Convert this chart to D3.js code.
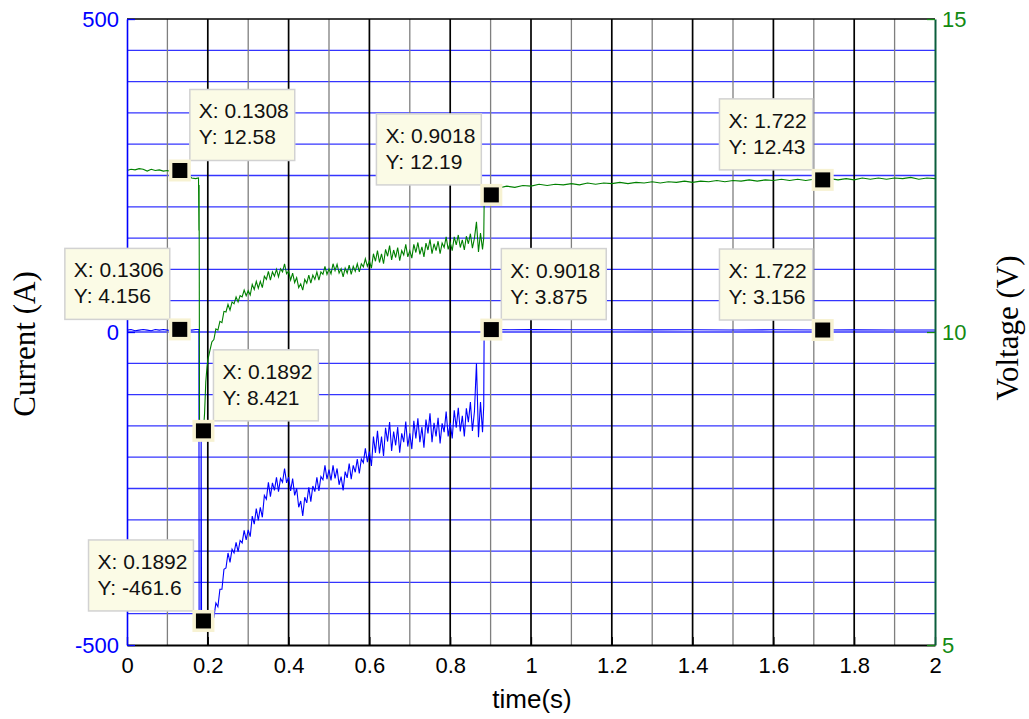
<!DOCTYPE html>
<html><head><meta charset="utf-8">
<script src="https://cdn.jsdelivr.net/npm/d3@7"></script>
<style>body{margin:0;background:#fff}svg{display:block}</style>
</head><body><svg id="c" width="1029" height="719"></svg>
<script>
// ---------- DATA ----------
const timeTicks = [0,0.2,0.4,0.6,0.8,1,1.2,1.4,1.6,1.8,2];
const timeTickLabels = ["0","0.2","0.4","0.6","0.8","1","1.2","1.4","1.6","1.8","2"];
const currentTicks = [-500,0,500];
const currentTickLabels = ["-500","0","500"];
const voltageTicks = [5,10,15];
const voltageTickLabels = ["5","10","15"];

// shared dense sample times (transient part)
const denseT = [
0.2,0.205,0.21,0.215,0.22,0.225,0.23,0.235,0.24,0.245,
0.25,0.255,0.26,0.265,0.27,0.275,0.28,0.285,0.29,0.295,
0.3,0.305,0.31,0.315,0.32,0.325,0.33,0.335,0.34,0.345,
0.35,0.355,0.36,0.365,0.37,0.375,0.38,0.385,0.39,0.395,
0.4,0.405,0.41,0.415,0.42,0.425,0.43,0.435,0.44,0.445,
0.45,0.455,0.46,0.465,0.47,0.475,0.48,0.485,0.49,0.495,
0.5,0.505,0.51,0.515,0.52,0.525,0.53,0.535,0.54,0.545,
0.55,0.555,0.56,0.565,0.57,0.575,0.58,0.585,0.59,0.595,
0.6,0.605,0.61,0.615,0.62,0.625,0.63,0.635,0.64,0.645,
0.65,0.655,0.66,0.665,0.67,0.675,0.68,0.685,0.69,0.695,
0.7,0.705,0.71,0.715,0.72,0.725,0.73,0.735,0.74,0.745,
0.75,0.755,0.76,0.765,0.77,0.775,0.78,0.785,0.79,0.795,
0.8,0.805,0.81,0.815,0.82,0.825,0.83,0.835,0.84,0.845,
0.85,0.855,0.86,0.865,0.87,0.875,0.88];

// current (A)
const currentHeadT = [0,0.01,0.02,0.03,0.04,0.05,0.06,0.07,0.08,0.09,0.1,0.11,0.12,0.1306,0.14,0.15,0.16,0.17,0.178,0.1785,0.183,0.1835,0.1845,0.1892,0.195];
const currentHeadA = [3,4,2,3,4,3,2,4,3,4,3,2,4,4.156,3,4,3,4,4,-455,-458,-150,-460,-461.6,-460];
const currentDenseA = [
-462,-460,-460,-456,-433,-439,-411,-411,-379,-377,
-353,-368,-347,-353,-336,-351,-333,-337,-317,-332,
-316,-327,-294,-307,-282,-301,-280,-296,-261,-267,
-240,-263,-241,-253,-232,-255,-234,-240,-218,-241,
-232,-254,-234,-261,-250,-280,-270,-294,-264,-273,
-248,-271,-246,-255,-232,-254,-231,-236,-213,-235,
-220,-237,-213,-234,-218,-244,-231,-253,-223,-233,
-210,-235,-213,-224,-203,-226,-203,-209,-186,-208,
-191,-214,-167,-193,-158,-194,-167,-198,-153,-175,
-144,-190,-159,-181,-152,-193,-162,-176,-143,-183,
-162,-187,-142,-170,-138,-176,-152,-185,-140,-162,
-130,-176,-145,-167,-137,-178,-146,-160,-127,-167,
-145,-170,-125,-153,-121,-159,-134,-167,-122,-144,
-112,-158,-127,-50,-168,-112,-160];
const currentTailT = [0.883,0.884,0.9018,0.95,1.0,1.1,1.2,1.3,1.4,1.5,1.6,1.722,1.8,1.9,2.0];
const currentTailA = [-118,3,3.875,3.6,3.8,3.5,3.7,3.4,3.6,3.3,3.5,3.156,3.4,3.2,3.3];

// voltage (V)
const voltageHeadT = [0,0.01,0.02,0.03,0.04,0.05,0.06,0.07,0.08,0.09,0.1,0.11,0.12,0.1308,0.14,0.15,0.155,0.16,0.17,0.177,0.178,0.1785,0.1795,0.183,0.1892,0.192,0.195,0.198];
const voltageHeadV = [12.58,12.6,12.59,12.61,12.6,12.57,12.6,12.58,12.59,12.57,12.58,12.56,12.57,12.58,12.57,12.55,12.5,12.46,12.45,12.46,11.62,12.35,8.6,8.5,8.421,8.7,9.2,9.44];
const voltageDenseV = [
9.55,9.7,9.84,9.88,10.05,10.03,10.17,10.15,10.33,10.32,
10.44,10.35,10.48,10.45,10.56,10.48,10.58,10.56,10.67,10.58,
10.66,10.59,10.76,10.68,10.81,10.7,10.81,10.71,10.89,10.84,
10.97,10.83,10.96,10.89,11.0,10.88,11.01,10.96,11.09,10.93,
10.97,10.83,10.94,10.79,10.87,10.71,10.77,10.67,10.84,10.78,
10.91,10.78,10.91,10.84,10.96,10.83,10.96,10.92,11.05,10.92,
11.01,10.93,11.09,10.98,11.08,10.94,11.01,10.88,11.02,10.94,
11.07,10.92,11.05,10.97,11.09,10.96,11.09,11.04,11.17,11.05,
11.13,11.02,11.25,11.13,11.3,11.11,11.25,11.09,11.32,11.21,
11.38,11.15,11.31,11.19,11.35,11.14,11.3,11.23,11.4,11.2,
11.3,11.18,11.4,11.27,11.43,11.24,11.36,11.2,11.42,11.31,
11.48,11.25,11.41,11.3,11.45,11.25,11.42,11.35,11.52,11.32,
11.43,11.3,11.52,11.39,11.55,11.35,11.47,11.31,11.53,11.41,
11.57,11.34,11.5,11.76,11.28,11.58,11.32];
const voltageTailT = [0.883,0.884,0.888,0.9018,0.91,0.92,0.94,0.96,0.98,1.0,1.02,1.04,1.06,1.08,1.1,1.12,1.14,1.16,1.18,1.2,1.22,1.24,1.26,1.28,1.3,1.32,1.34,1.36,1.38,1.4,1.42,1.44,1.46,1.48,1.5,1.52,1.54,1.56,1.58,1.6,1.62,1.64,1.66,1.68,1.7,1.722,1.74,1.76,1.78,1.8,1.82,1.84,1.86,1.88,1.9,1.92,1.94,1.96,1.98,2.0];
const voltageTailV = [11.5,12.03,12.1,12.19,12.28,12.3,12.33,12.31,12.34,12.33,12.36,12.34,12.36,12.35,12.37,12.35,12.38,12.36,12.38,12.37,12.39,12.37,12.39,12.38,12.4,12.38,12.4,12.39,12.41,12.39,12.41,12.4,12.42,12.4,12.42,12.41,12.43,12.41,12.43,12.42,12.44,12.42,12.44,12.42,12.44,12.43,12.45,12.43,12.45,12.43,12.46,12.44,12.46,12.44,12.46,12.45,12.47,12.44,12.46,12.45];

// data tips
const tipX = [0.1308,0.1306,0.1892,0.1892,0.9018,0.9018,1.722,1.722];
const tipY = [12.58,4.156,8.421,-461.6,12.19,3.875,12.43,3.156];
const tipAxis = ["V","I","V","I","V","I","V","I"];
const tipSide = ["ur","ul","ur","ul","ul","ur","ul","ul"];
const tipLine1 = ["X: 0.1308","X: 0.1306","X: 0.1892","X: 0.1892","X: 0.9018","X: 0.9018","X: 1.722","X: 1.722"];
const tipLine2 = ["Y: 12.58","Y: 4.156","Y: 8.421","Y: -461.6","Y: 12.19","Y: 3.875","Y: 12.43","Y: 3.156"];

// ---------- CHART ----------
const svg = d3.select("#c");
const L = 127, R = 935, T = 19, B = 645;
const x = d3.scaleLinear().domain([0,2]).range([L,R]);
const yI = d3.scaleLinear().domain([-500,500]).range([B,T]);
const yV = d3.scaleLinear().domain([5,15]).range([B,T]);
const sans = "'Liberation Sans', Arial, Helvetica, sans-serif";
const serif = "'Liberation Serif', 'Times New Roman', serif";

svg.append("rect").attr("width",1029).attr("height",719).attr("fill","#fff");

// grid
const grid = svg.append("g");
grid.selectAll("line.h").data(d3.range(-450,451,50)).join("line")
  .attr("x1",L).attr("x2",R).attr("y1",d=>yI(d)).attr("y2",d=>yI(d))
  .attr("stroke","#3434ff").attr("stroke-width",1.3);
grid.selectAll("line.v").data(d3.range(1,20)).join("line")
  .attr("x1",d=>x(d/10)).attr("x2",d=>x(d/10)).attr("y1",T).attr("y2",B)
  .attr("stroke",d=>d%2?"#7f7f7f":"#000").attr("stroke-width",d=>d%2?1.3:1.7);

// traces
const curData = [].concat(
  currentHeadT.map((t,i)=>[t,currentHeadA[i]]),
  denseT.map((t,i)=>[t,currentDenseA[i]]),
  currentTailT.map((t,i)=>[t,currentTailA[i]]));
const volData = [].concat(
  voltageHeadT.map((t,i)=>[t,voltageHeadV[i]]),
  denseT.map((t,i)=>[t,voltageDenseV[i]]),
  voltageTailT.map((t,i)=>[t,voltageTailV[i]]));

svg.append("path").datum(curData)
  .attr("d",d3.line().x(d=>x(d[0])).y(d=>yI(d[1])))
  .attr("fill","none").attr("stroke","#0000ff").attr("stroke-width",1.1);
svg.append("path").datum(volData)
  .attr("d",d3.line().x(d=>x(d[0])).y(d=>yV(d[1])))
  .attr("fill","none").attr("stroke","#008000").attr("stroke-width",1.1);

// top border
svg.append("line").attr("x1",L).attr("x2",R).attr("y1",T).attr("y2",T).attr("stroke","#000").attr("stroke-width",1.6);

// axes
function styleAxis(g, col, lineCol, w){
  g.attr("font-family",sans).attr("font-size",22);
  g.select(".domain").attr("stroke",lineCol).attr("stroke-width",w);
  g.selectAll(".tick line").attr("stroke",lineCol).attr("stroke-width",1.3);
  g.selectAll(".tick text").attr("fill",col);
}
svg.append("g").attr("transform",`translate(0,${B})`)
  .call(d3.axisBottom(x).tickValues(timeTicks).tickFormat((d,i)=>timeTickLabels[i]).tickSize(-8).tickSizeOuter(0).tickPadding(12))
  .call(g=>styleAxis(g,"#000","#000",2));
svg.append("g").attr("transform",`translate(${L},0)`)
  .call(d3.axisLeft(yI).tickValues(currentTicks).tickFormat((d,i)=>currentTickLabels[i]).tickSize(-8).tickSizeOuter(0).tickPadding(8))
  .call(g=>styleAxis(g,"#0000ff","#0000ff",1.6));
svg.append("g").attr("transform",`translate(${R},0)`)
  .call(d3.axisRight(yV).tickValues(voltageTicks).tickFormat((d,i)=>voltageTickLabels[i]).tickSize(-8).tickSizeOuter(0).tickPadding(7))
  .call(g=>{styleAxis(g,"#138a13","#0b5e3c",2); g.selectAll(".tick line").attr("stroke","#138a13");});

// axis titles
svg.append("text").attr("transform","translate(35,344) rotate(-90)")
  .attr("text-anchor","middle").attr("font-family",serif).attr("font-size",31).attr("fill","#000").text("Current (A)");
svg.append("text").attr("transform","translate(1018,328) rotate(-90)")
  .attr("text-anchor","middle").attr("font-family",serif).attr("font-size",31).attr("fill","#000").text("Voltage (V)");
svg.append("text").attr("x",532).attr("y",708)
  .attr("text-anchor","middle").attr("font-family",sans).attr("font-size",26).attr("fill","#000").text("time(s)");

// data tips
const tips = svg.append("g");
tipX.forEach((tx,i)=>{
  const px = x(tx);
  const py = (tipAxis[i]==="V"?yV:yI)(tipY[i]);
  const g = tips.append("g");
  const rect = g.append("rect");
  const t1 = g.append("text").attr("font-family",sans).attr("font-size",21).attr("fill","#111").text(tipLine1[i]);
  const t2 = g.append("text").attr("font-family",sans).attr("font-size",21).attr("fill","#111").text(tipLine2[i]);
  const tw = Math.max(t1.node().getComputedTextLength(), t2.node().getComputedTextLength());
  const bw = tw + 15, bh = 71, off = 10;
  const bx = tipSide[i]==="ur" ? px + off : px - off - bw;
  const by = py - off - bh;
  rect.attr("x",bx).attr("y",by).attr("width",bw).attr("height",bh)
    .attr("fill","#fbfbe6").attr("stroke","#d2d2d2").attr("stroke-width",1.5);
  t1.attr("x",bx+9).attr("y",by+29);
  t2.attr("x",bx+9).attr("y",by+55);
  g.append("rect").attr("x",px-11).attr("y",py-11).attr("width",22).attr("height",22).attr("fill","#f7f2d2");
  g.append("rect").attr("x",px-7.5).attr("y",py-7.5).attr("width",15).attr("height",15).attr("fill","#000");
});
</script>
</body></html>
